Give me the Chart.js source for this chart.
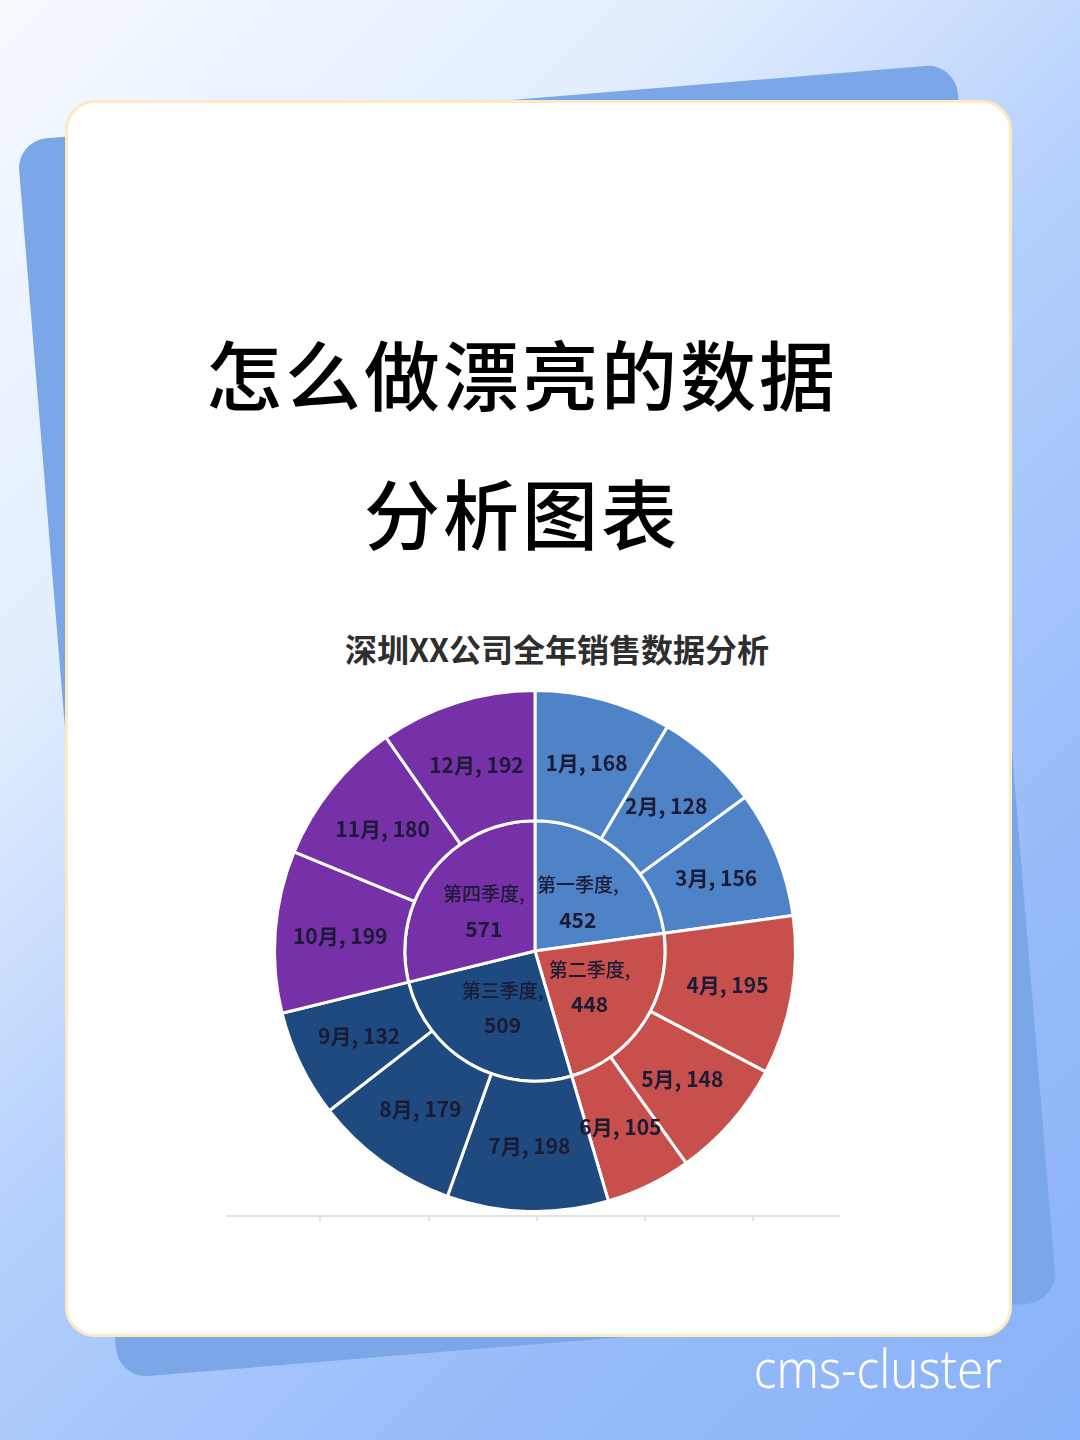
<!DOCTYPE html>
<html>
<head>
<meta charset="utf-8">
<script src="https://cdn.jsdelivr.net/npm/chart.js@4.4.1/dist/chart.umd.min.js"></script>
<style>
    html, body {
        margin: 0;
        padding: 0;
    }
    body {
        width: 1080px;
        height: 1440px;
        position: relative;
        overflow: hidden;
        background: linear-gradient(135deg, #f6faff 0%, #e2edfe 28%, #b3cffc 50%, #98bcfa 75%, #8ab2f8 100%);
        font-family: "Noto Sans CJK SC", "Noto Sans", sans-serif;
    }
    .back-card {
        position: absolute;
        left: 66px;
        top: 100px;
        width: 942px;
        height: 1242px;
        background: #7ba7e9;
        border-radius: 30px;
        transform: rotate(-4.7deg);
    }
    .card {
        position: absolute;
        left: 65px;
        top: 100px;
        width: 941px;
        height: 1231px;
        background: #ffffff;
        border: 3px solid #fde9c2;
        border-radius: 30px;
    }
    .headline {
        position: absolute;
        left: 0;
        width: 1044px;
        text-align: center;
        font-size: 76px;
        font-weight: 500;
        color: #000;
        letter-spacing: 3px;
        line-height: 1;
    }
    .chart-title {
        position: absolute;
        left: 0;
        top: 628px;
        width: 1114px;
        text-align: center;
        font-size: 32px;
        font-weight: 700;
        color: #2e2e2e;
        line-height: 1.3;
    }
    #chartWrap {
        position: absolute;
        left: 255px;
        top: 671px;
        width: 560px;
        height: 560px;
    }
    .axis {
        position: absolute;
        left: 226px;
        top: 1215px;
        width: 614px;
        height: 2px;
        background: #e3e3e3;
    }
    .tick {
        position: absolute;
        top: 1215px;
        width: 2px;
        height: 6px;
        background: #e3e3e3;
    }
    .mark {
        position: absolute;
        right: 78px;
        top: 1330px;
        font-family: "Noto Sans", sans-serif;
        font-size: 54px;
        font-weight: 300;
        color: #ffffff;
        transform: scaleX(0.88);
        transform-origin: right center;
    }
</style>
</head>
<body>
    <div class="back-card"></div>
    <div class="card"></div>
    <div class="headline" style="top: 334px;">怎么做漂亮的数据</div>
    <div class="headline" style="top: 473px;">分析图表</div>
    <div class="chart-title">深圳XX公司全年销售数据分析</div>

    <div class="axis"></div>
    <div class="tick" style="left: 319px;"></div>
    <div class="tick" style="left: 428px;"></div>
    <div class="tick" style="left: 536px;"></div>
    <div class="tick" style="left: 644px;"></div>
    <div class="tick" style="left: 752px;"></div>

    <div id="chartWrap"><canvas id="sunChart"></canvas></div>
    <div class="mark">cms-cluster</div>

<script>
    // Data
    const months = ['1月', '2月', '3月', '4月', '5月', '6月', '7月', '8月', '9月', '10月', '11月', '12月'];
    const monthSales = [168, 128, 156, 195, 148, 105, 198, 179, 132, 199, 180, 192];
    const quarters = ['第一季度', '第二季度', '第三季度', '第四季度'];
    const quarterSales = [452, 448, 509, 571];

    // Colors per quarter
    const quarterColors = ['#4f83c8', '#c8504c', '#1f4a80', '#7630a8'];
    const monthColors = months.map((m, i) => quarterColors[Math.floor(i / 3)]);
    const labelColor = '#1b1b35';

    // Draw labels on each slice
    const sliceLabels = {
        id: 'sliceLabels',
        afterDatasetsDraw(chart) {
            const ctx = chart.ctx;
            ctx.save();
            ctx.fillStyle = labelColor;
            ctx.textAlign = 'center';
            ctx.textBaseline = 'middle';

            // outer ring: months
            chart.getDatasetMeta(0).data.forEach((arc, i) => {
                const p = arc.tooltipPosition();
                ctx.font = 'bold 21px "Noto Sans CJK SC", sans-serif';
                ctx.fillText(months[i] + ', ' + monthSales[i], p.x, p.y);
            });

            // inner ring: quarters
            chart.getDatasetMeta(1).data.forEach((arc, i) => {
                const p = arc.tooltipPosition();
                ctx.font = '500 19px "Noto Sans CJK SC", sans-serif';
                ctx.fillText(quarters[i] + ',', p.x, p.y - 17);
                ctx.font = 'bold 21px "Noto Sans CJK SC", sans-serif';
                ctx.fillText(String(quarterSales[i]), p.x, p.y + 18);
            });
            ctx.restore();
        }
    };

    const ctx = document.getElementById('sunChart').getContext('2d');

    new Chart(ctx, {
        type: 'pie',
        data: {
            labels: months,
            datasets: [{
                data: monthSales,
                backgroundColor: monthColors,
                borderColor: '#ffffff',
                borderWidth: 3
            }, {
                data: quarterSales,
                backgroundColor: quarterColors,
                borderColor: '#ffffff',
                borderWidth: 3
            }]
        },
        options: {
            responsive: true,
            maintainAspectRatio: false,
            animation: false,
            layout: {
                padding: 18
            },
            plugins: {
                legend: {
                    display: false
                },
                tooltip: {
                    enabled: false
                }
            }
        },
        plugins: [sliceLabels]
    });
</script>
</body>
</html>
